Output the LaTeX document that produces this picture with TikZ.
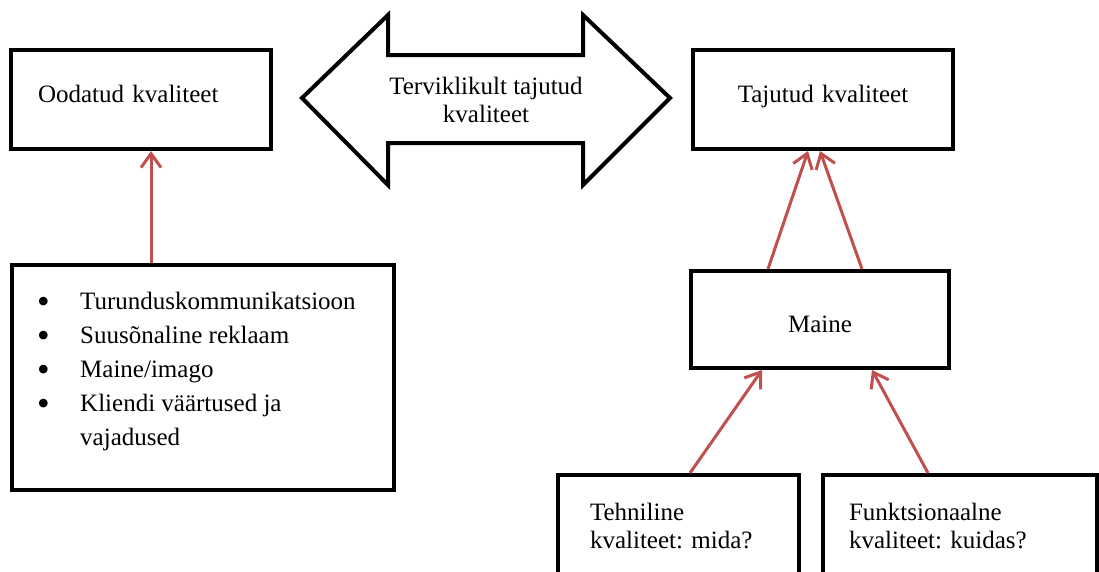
\documentclass[tikz,border=0pt]{standalone}
\usepackage{fontspec}
\setmainfont{Liberation Serif}
\usetikzlibrary{arrows.meta}
\definecolor{linkred}{RGB}{192,80,77}
\frenchspacing

\newcommand{\listdot}{\raisebox{-4.5pt}{\fontsize{36}{34}\selectfont\textbullet}}

\tikzset{
  box/.style={draw=black, line width=4pt, line join=miter, fill=white,
              font=\fontsize{25}{28}\selectfont},
  conn/.style={draw=linkred, line width=3pt,
               -{Straight Barb[length=14pt,width=20pt]}},
  txt/.style={font=\fontsize{25}{28}\selectfont, inner sep=0pt},
  bigarrow/.style={draw=black, line width=4pt, line join=miter, fill=white}
}

\begin{document}
\begin{tikzpicture}[x=1pt,y=-1pt]
  \useasboundingbox (0,0) rectangle (1099,571);
  \fill[white] (0,0) rectangle (1099,571);
  \clip (0,0) rectangle (1099,571);

  % two-headed arrow in the top middle
  \draw[bigarrow] (302,98) -- (388,15) -- (388,55) -- (583,55) -- (583,15)
        -- (670,98) -- (583,185) -- (583,143) -- (388,143) -- (388,185) -- cycle;
  \node[txt, align=center] (total) at (486,100)
        {Terviklikult tajutud\\kvaliteet};

  % quality boxes
  \node[box, minimum width=260pt, minimum height=99pt, text width=206pt,
        inner xsep=27pt, align=left, text height=17pt, text depth=12pt]
        (ood) at (141,99.5) {Oodatud kvaliteet};
  \node[box, minimum width=260pt, minimum height=99pt, text width=206pt,
        inner xsep=27pt, align=center, text height=17pt, text depth=12pt]
        (taj) at (823,99.5) {Tajutud kvaliteet};

  % list of expectation sources
  \node[box, minimum width=382pt, minimum height=225pt] (list) at (203,377.5) {};
  \node[anchor=north west, inner sep=0pt, font=\fontsize{25}{34}\selectfont]
        (listtext) at (37,285.2)
        {\begin{tabular}{@{}p{43pt}@{}l@{}}
           \listdot & Turunduskommunikatsioon\\
           \listdot & Suusõnaline reklaam\\
           \listdot & Maine/imago\\
           \listdot & Kliendi väärtused ja\\
                    & vajadused
         \end{tabular}};

  % image and its two components
  \node[box, minimum width=258pt, minimum height=97pt,
        text height=25pt, text depth=0pt] (maine) at (820,319.5) {Maine};
  \node[box, minimum width=241pt, minimum height=101pt, text width=177pt,
        inner xsep=32pt, align=left] (teh) at (678.5,525.5)
        {Tehniline\\kvaliteet: mida?};
  \node[box, minimum width=274pt, minimum height=101pt, text width=222pt,
        inner xsep=26pt, align=left] (funk) at (960,525.5)
        {Funktsionaalne\\kvaliteet: kuidas?};

  % influence arrows
  \draw[conn] ([xshift=-52pt]list.north) -- ([xshift=10pt]ood.south);
  \draw[conn] ([xshift=-52pt]maine.north) -- ([xshift=-15pt]taj.south);
  \draw[conn] ([xshift=42pt]maine.north) -- ([xshift=-3pt]taj.south);
  \draw[conn] ([xshift=11.5pt]teh.north) -- ([xshift=-58pt]maine.south);
  \draw[conn] ([xshift=-32pt]funk.north) -- ([xshift=52pt]maine.south);
\end{tikzpicture}
\end{document}
